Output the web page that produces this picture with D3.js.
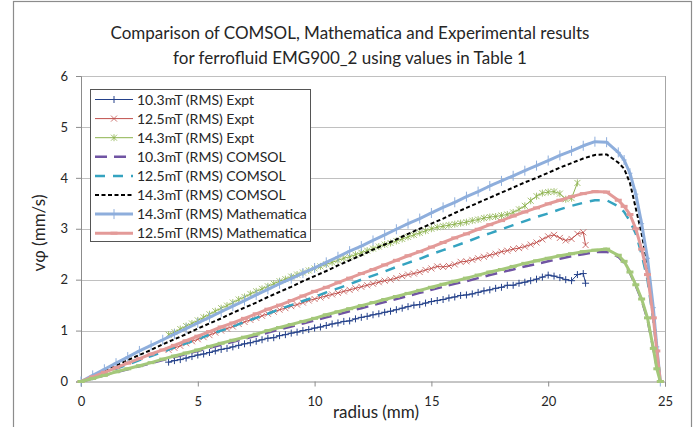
<!DOCTYPE html>
<html>
<head>
<meta charset="utf-8">
<script src="https://cdn.jsdelivr.net/npm/d3@7"></script>
<style>
  body { margin: 0; background: #fff; }
  text { font-family: Lato, "Open Sans", sans-serif; fill: #262626; }
</style>
</head>
<body>
<div id="chart"></div>
<script>
// radius positions (mm) of the experimental points
var rExpt = [3.75,
  4, 4.25, 4.5, 4.75, 5, 5.25, 5.5, 5.75, 6, 6.25, 6.5, 6.75, 7, 7.25, 7.5, 7.75,
  8, 8.25, 8.5, 8.75, 9, 9.25, 9.5, 9.75, 10, 10.25, 10.5, 10.75, 11, 11.25, 11.5, 11.75,
  12, 12.25, 12.5, 12.75, 13, 13.25, 13.5, 13.75, 14, 14.25, 14.5, 14.75, 15, 15.25, 15.5, 15.75,
  16, 16.25, 16.5, 16.75, 17, 17.25, 17.5, 17.75, 18, 18.25, 18.5, 18.75, 19, 19.25, 19.5, 19.75,
  20, 20.25, 20.5, 20.75, 21, 21.25, 21.5, 21.6];

var expt103 = [.38,
  .41, .43, .46, .49, .52, .54, .57, .60, .63, .65, .68, .71, .74, .76, .79, .82,
  .85, .86, .90, .92, .95, .97, 1.00, 1.02, 1.05, 1.07, 1.10, 1.13, 1.15, 1.18, 1.19, 1.23,
  1.26, 1.28, 1.31, 1.33, 1.36, 1.38, 1.41, 1.44, 1.47, 1.50, 1.51, 1.54, 1.57, 1.59, 1.61, 1.64,
  1.66, 1.69, 1.70, 1.72, 1.75, 1.78, 1.80, 1.83, 1.85, 1.89, 1.89, 1.93, 1.95, 1.98, 2.01, 2.05,
  2.09, 2.07, 2.04, 2.00, 1.98, 2.10, 2.12, 1.93];

var expt125 = [.62,
  .66, .70, .75, .79, .83, .87, .91, .96, 1.00, 1.04, 1.08, 1.13, 1.17, 1.21, 1.25, 1.29,
  1.33, 1.37, 1.41, 1.44, 1.48, 1.51, 1.55, 1.59, 1.62, 1.65, 1.68, 1.71, 1.74, 1.77, 1.80, 1.83,
  1.86, 1.89, 1.92, 1.95, 1.98, 2.00, 2.03, 2.07, 2.10, 2.12, 2.15, 2.19, 2.22, 2.26, 2.25, 2.27,
  2.30, 2.35, 2.36, 2.39, 2.42, 2.45, 2.48, 2.51, 2.55, 2.57, 2.60, 2.62, 2.65, 2.69, 2.73, 2.79,
  2.85, 2.88, 2.82, 2.77, 2.80, 2.90, 2.93, 2.68];

var expt143 = [.92,
  .97, 1.03, 1.09, 1.14, 1.20, 1.26, 1.32, 1.38, 1.44, 1.49, 1.55, 1.61, 1.66, 1.72, 1.77, 1.82,
  1.87, 1.92, 1.97, 2.01, 2.06, 2.10, 2.14, 2.18, 2.22, 2.26, 2.30, 2.34, 2.38, 2.42, 2.45, 2.49,
  2.53, 2.57, 2.61, 2.65, 2.69, 2.72, 2.76, 2.80, 2.84, 2.88, 2.92, 2.96, 3.00, 3.03, 3.05, 3.07,
  3.09, 3.11, 3.13, 3.16, 3.18, 3.21, 3.23, 3.24, 3.26, 3.28, 3.32, 3.38, 3.45, 3.55, 3.64, 3.70,
  3.72, 3.73, 3.69, 3.58, 3.60, 3.90, null, null];

// radius positions (mm) of the model curves
var rModel = [0, 0.5, 1, 1.5, 2, 2.5, 3, 3.5, 4, 4.5,
  5, 5.5, 6, 6.5, 7, 7.5, 8, 8.5, 9, 9.5,
  10, 10.5, 11, 11.5, 12, 12.5, 13, 13.5, 14, 14.5,
  15, 15.5, 16, 16.5, 17, 17.5, 18, 18.5, 19, 19.5,
  20, 20.5, 21, 21.5, 22, 22.5,
  23, 23.25, 23.5, 23.75, 24, 24.25, 24.5, 24.65, 24.8];

var comsol103 = [0, .06, .12, .18, .24, .30, .36, .42, .48, .54,
  .60, .66, .72, .78, .84, .90, .96, 1.02, 1.08, 1.14,
  1.20, 1.26, 1.32, 1.38, 1.44, 1.50, 1.56, 1.62, 1.68, 1.74,
  1.80, 1.86, 1.92, 1.97, 2.03, 2.09, 2.15, 2.20, 2.26, 2.31,
  2.36, 2.41, 2.46, 2.50, 2.54, 2.55,
  2.45, 2.33, 2.13, 1.88, 1.60, 1.22, 0.65, 0.28, 0];

var comsol125 = [0, .08, .17, .25, .33, .42, .50, .58, .67, .75,
  .83, .92, 1.00, 1.08, 1.17, 1.25, 1.33, 1.42, 1.50, 1.58,
  1.66, 1.75, 1.83, 1.91, 2.00, 2.08, 2.16, 2.25, 2.33, 2.41,
  2.50, 2.58, 2.66, 2.74, 2.83, 2.91, 2.99, 3.07, 3.15, 3.23,
  3.30, 3.38, 3.45, 3.51, 3.56, 3.56,
  3.44, 3.33, 3.15, 2.90, 2.50, 2.00, 1.20, 0.60, 0];

var comsol143 = [0, .10, .21, .31, .42, .52, .62, .73, .83, .93,
  1.04, 1.14, 1.24, 1.35, 1.45, 1.55, 1.66, 1.76, 1.86, 1.97,
  2.07, 2.17, 2.28, 2.38, 2.48, 2.59, 2.69, 2.79, 2.90, 3.00,
  3.10, 3.20, 3.31, 3.41, 3.51, 3.61, 3.71, 3.81, 3.91, 4.00,
  4.10, 4.20, 4.29, 4.38, 4.45, 4.46,
  4.30, 4.18, 3.90, 3.40, 2.90, 2.30, 1.40, 0.68, 0];

var math143 = [0, .12, .24, .36, .48, .60, .71, .82, .93, 1.04,
  1.15, 1.26, 1.37, 1.48, 1.59, 1.70, 1.81, 1.92, 2.02, 2.13,
  2.23, 2.34, 2.45, 2.56, 2.66, 2.77, 2.88, 2.99, 3.10, 3.20,
  3.31, 3.42, 3.52, 3.63, 3.73, 3.84, 3.94, 4.04, 4.14, 4.24,
  4.34, 4.44, 4.53, 4.63, 4.71, 4.70,
  4.50, 4.35, 4.09, 3.68, 3.10, 2.42, 1.45, 0.68, 0];

var math125 = [0, .09, .18, .27, .36, .45, .54, .62, .71, .80,
  .89, .98, 1.07, 1.15, 1.24, 1.33, 1.42, 1.50, 1.59, 1.68,
  1.77, 1.85, 1.94, 2.03, 2.12, 2.20, 2.29, 2.38, 2.47, 2.55,
  2.64, 2.73, 2.82, 2.90, 2.99, 3.08, 3.16, 3.25, 3.33, 3.41,
  3.49, 3.56, 3.63, 3.69, 3.73, 3.72,
  3.56, 3.44, 3.28, 3.00, 2.60, 2.10, 1.25, 0.60, 0];

var math103 = [0, .06, .12, .19, .25, .31, .37, .44, .50, .56,
  .62, .69, .75, .81, .87, .93, 1.00, 1.06, 1.12, 1.18,
  1.24, 1.31, 1.37, 1.43, 1.49, 1.55, 1.61, 1.67, 1.73, 1.79,
  1.85, 1.91, 1.97, 2.03, 2.09, 2.15, 2.20, 2.26, 2.32, 2.37,
  2.42, 2.47, 2.51, 2.55, 2.58, 2.60,
  2.48, 2.36, 2.15, 1.90, 1.62, 1.25, 0.65, 0.25, 0];

var legendNames = ["10.3mT (RMS) Expt", "12.5mT (RMS) Expt", "14.3mT (RMS) Expt",
  "10.3mT (RMS) COMSOL", "12.5mT (RMS) COMSOL", "14.3mT (RMS) COMSOL",
  "14.3mT (RMS) Mathematica", "12.5mT (RMS) Mathematica"];

var xTicks = [0, 5, 10, 15, 20, 25];
var yTicks = [0, 1, 2, 3, 4, 5, 6];

// marker shapes
var mk = {
  plus: "M-3.5,0H3.5M0,-3.5V3.5",
  cross: "M-3,-3L3,3M-3,3L3,-3",
  star: "M-3,-3L3,3M-3,3L3,-3M0,-3.5V3.5",
  tick: "M0,-5V5M-2.5,0H2.5",
  dash: "M-3.5,0H3.5"
};

var series = [
  { name: legendNames[0], r: rExpt, v: expt103, color: "#24418a", w: 1, mark: mk.plus, mw: 1 },
  { name: legendNames[1], r: rExpt, v: expt125, color: "#c0504d", w: 1, mark: mk.cross, mw: 0.8 },
  { name: legendNames[2], r: rExpt, v: expt143, color: "#8db34e", w: 1, mark: mk.star, mw: 0.8 },
  { name: legendNames[3], r: rModel, v: comsol103, color: "#7054a3", w: 2.5, dash: "12,7" },
  { name: legendNames[4], r: rModel, v: comsol125, color: "#35a3c0", w: 2.5, dash: "10,8" },
  { name: legendNames[5], r: rModel, v: comsol143, color: "#000", w: 2, dash: "4,2.5" },
  { name: legendNames[6], r: rModel, v: math143, color: "#8eaedc", w: 3, mark: mk.tick, mw: 1 },
  { name: legendNames[7], r: rModel, v: math125, color: "#e39a98", w: 3, mark: mk.dash, mw: 3 },
  { name: null, r: rModel, v: math103, color: "#a4c87a", w: 3, mark: mk.dash, mw: 3 }
];

var W = 699, H = 427;
var svg = d3.select("#chart").append("svg").attr("width", W).attr("height", H);

// chart border
svg.append("rect").attr("x", 13.5).attr("y", 1.5).attr("width", 678).attr("height", 440)
  .attr("fill", "none").attr("stroke", "#8c8c8c").attr("stroke-width", 1.2);

var x = d3.scaleLinear().domain([0, 25]).range([81, 665]);
var y = d3.scaleLinear().domain([0, 6]).range([381.5, 76]);

// gridlines
svg.append("g").selectAll("line").data(yTicks.slice(1)).enter().append("line")
  .attr("x1", x(0)).attr("x2", x(25))
  .attr("y1", function(d) { return Math.round(y(d)) + 0.5; })
  .attr("y2", function(d) { return Math.round(y(d)) + 0.5; })
  .attr("stroke", "#c0c0c0").attr("stroke-width", 1);

// right border of plot area
svg.append("line").attr("x1", x(25) + 0.5).attr("x2", x(25) + 0.5)
  .attr("y1", y(6)).attr("y2", y(0)).attr("stroke", "#a6a6a6");

var xAxis = svg.append("g").attr("transform", "translate(0," + y(0) + ")")
  .call(d3.axisBottom(x).tickValues(xTicks).tickSize(5).tickPadding(10).tickFormat(d3.format("d")));
var yAxis = svg.append("g").attr("transform", "translate(" + x(0) + ",0)")
  .call(d3.axisLeft(y).tickValues(yTicks).tickSize(5).tickPadding(8).tickFormat(d3.format("d")));
[xAxis, yAxis].forEach(function(a) {
  a.select(".domain").attr("stroke", "#8c8c8c");
  a.selectAll(".tick line").attr("stroke", "#8c8c8c");
  a.selectAll("text").attr("font-size", 13).attr("fill", "#333")
    .attr("font-family", "Lato, 'Open Sans', sans-serif");
});

// series
var line = d3.line()
  .defined(function(d) { return d[1] !== null; })
  .x(function(d) { return x(d[0]); })
  .y(function(d) { return y(d[1]); });

series.forEach(function(s) {
  var pts = s.r.map(function(r, i) { return [r, s.v[i]]; });
  var g = svg.append("g");
  g.append("path").datum(pts).attr("d", line)
    .attr("fill", "none").attr("stroke", s.color).attr("stroke-width", s.w)
    .attr("stroke-dasharray", s.dash || null).attr("stroke-linejoin", "round");
  if (s.mark) {
    g.selectAll("path.m").data(pts.filter(function(d) { return d[1] !== null; }))
      .enter().append("path").attr("class", "m")
      .attr("transform", function(d) { return "translate(" + x(d[0]) + "," + y(d[1]) + ")"; })
      .attr("d", s.mark).attr("fill", "none").attr("stroke", s.color).attr("stroke-width", s.mw);
  }
});

// legend
var lg = svg.append("g");
lg.append("rect").attr("x", 90.5).attr("y", 89.5).attr("width", 220).attr("height", 152)
  .attr("fill", "#fff").attr("stroke", "#555").attr("stroke-width", 1);
series.filter(function(s) { return s.name; }).forEach(function(s, i) {
  var yy = 99.5 + i * 19.1;
  lg.append("line").attr("x1", 95).attr("x2", 133).attr("y1", yy).attr("y2", yy)
    .attr("stroke", s.color).attr("stroke-width", s.w).attr("stroke-dasharray", s.dash || null);
  if (s.mark) {
    lg.append("path").attr("transform", "translate(114," + yy + ")").attr("d", s.mark)
      .attr("fill", "none").attr("stroke", s.color).attr("stroke-width", s.mw);
  }
  lg.append("text").attr("x", 137).attr("y", yy + 5).attr("font-size", 14).text(s.name);
});

// titles
svg.append("text").attr("x", 350).attr("y", 39).attr("text-anchor", "middle")
  .attr("font-size", 17).text("Comparison of COMSOL, Mathematica and Experimental results");
svg.append("text").attr("x", 350).attr("y", 64).attr("text-anchor", "middle")
  .attr("font-size", 17).text("for ferrofluid EMG900_2 using values in Table 1");

svg.append("text").attr("x", 376).attr("y", 418).attr("text-anchor", "middle")
  .attr("font-size", 17).text("radius (mm)");
svg.append("text").attr("transform", "translate(45,233) rotate(-90)").attr("text-anchor", "middle")
  .attr("font-size", 17).text("vφ (mm/s)");
</script>
</body>
</html>
